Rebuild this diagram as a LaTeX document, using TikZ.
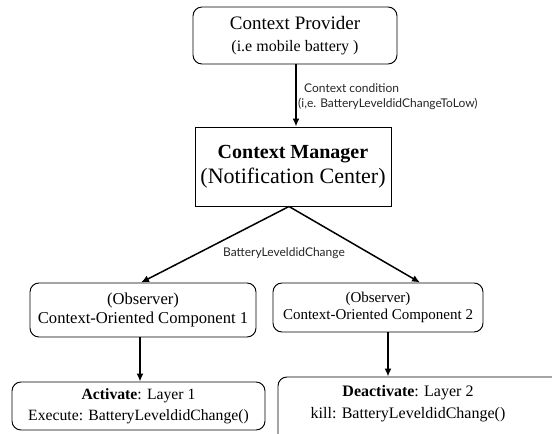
\documentclass[tikz,border=0pt]{standalone}
\usepackage{fontspec}
\setmainfont{Liberation Serif}
\newfontfamily\labelfont{Lato}
\usetikzlibrary{arrows.meta}

\tikzset{
  box/.style={draw=black, line width=0.95pt, rounded corners=9pt, align=center,
              inner sep=0pt},
  plainbox/.style={draw=black, line width=0.95pt, align=center, inner sep=0pt},
  arr/.style={line width=1.5pt, -{Latex[length=8pt,width=7pt]}},
  edgelabel/.style={font=\labelfont\fontsize{12}{14}\selectfont, inner sep=0pt, text=black!85},
}

\begin{document}
\begin{tikzpicture}[x=1pt,y=-1pt]
  \useasboundingbox (0,0) rectangle (552,434);
  \clip (0,0) rectangle (552,434);

  % context provider
  \node[box, minimum width=204pt, minimum height=57pt,
        font=\fontsize{16}{22}\selectfont] (prov) at (295,35.5)
    {{\fontsize{19}{22}\selectfont Context Provider}\\
     (i.e mobile battery )};

  % context manager
  \node[plainbox, minimum width=196pt, minimum height=79pt,
        font=\fontsize{22}{25}\selectfont] (mgr) at (293,166.5)
    {{\fontsize{20}{25}\selectfont\bfseries Context Manager}\\
     (Notification Center)};

  % observers
  \node[box, minimum width=226pt, minimum height=54pt,
        font=\fontsize{16.6}{19}\selectfont] (obsA) at (143,310)
    {(Observer)\\ Context-Oriented Component 1};
  \node[box, minimum width=210pt, minimum height=49pt,
        font=\fontsize{15}{17.5}\selectfont] (obsB) at (378,307.5)
    {(Observer)\\ Context-Oriented Component 2};

  % layer actions
  \node[box, minimum width=253pt, minimum height=48pt,
        font=\fontsize{15.7}{21}\selectfont] (act) at (138.5,406)
    {\textbf{Activate}: Layer 1\\ Execute: BatteryLeveldidChange()};
  \node[box, minimum width=300pt, minimum height=72pt] (deact) at (428,413) {};
  \node[align=center, inner sep=0pt, font=\fontsize{16}{22.5}\selectfont]
    (deacttext) at (408,403.5)
    {\textbf{Deactivate}: Layer 2\\ kill: BatteryLeveldidChange()};

  % connectors
  \draw[arr] ([xshift=1pt]prov.south) -- ([xshift=1pt]prov.south |- mgr.north);
  \draw[arr] ([xshift=-4pt]mgr.south) -- ([xshift=-2pt]obsA.north);
  \draw[arr] ([xshift=-4pt]mgr.south) -- ([xshift=42pt]obsB.north);
  \draw[arr] ([xshift=-3pt]obsA.south) -- ([xshift=-3pt]obsA.south |- act.north);
  \draw[arr] ([xshift=10pt]obsB.south) -- ([xshift=10pt]obsB.south |- deact.north);

  % connector labels
  \node[edgelabel, anchor=west] (condA) at (304,88) {Context condition};
  \node[edgelabel, anchor=west] (condB) at (298,103.5) {(i,e. BatteryLeveldidChangeToLow)};
  \node[edgelabel] (notify) at (284,253) {BatteryLeveldidChange};
\end{tikzpicture}
\end{document}
